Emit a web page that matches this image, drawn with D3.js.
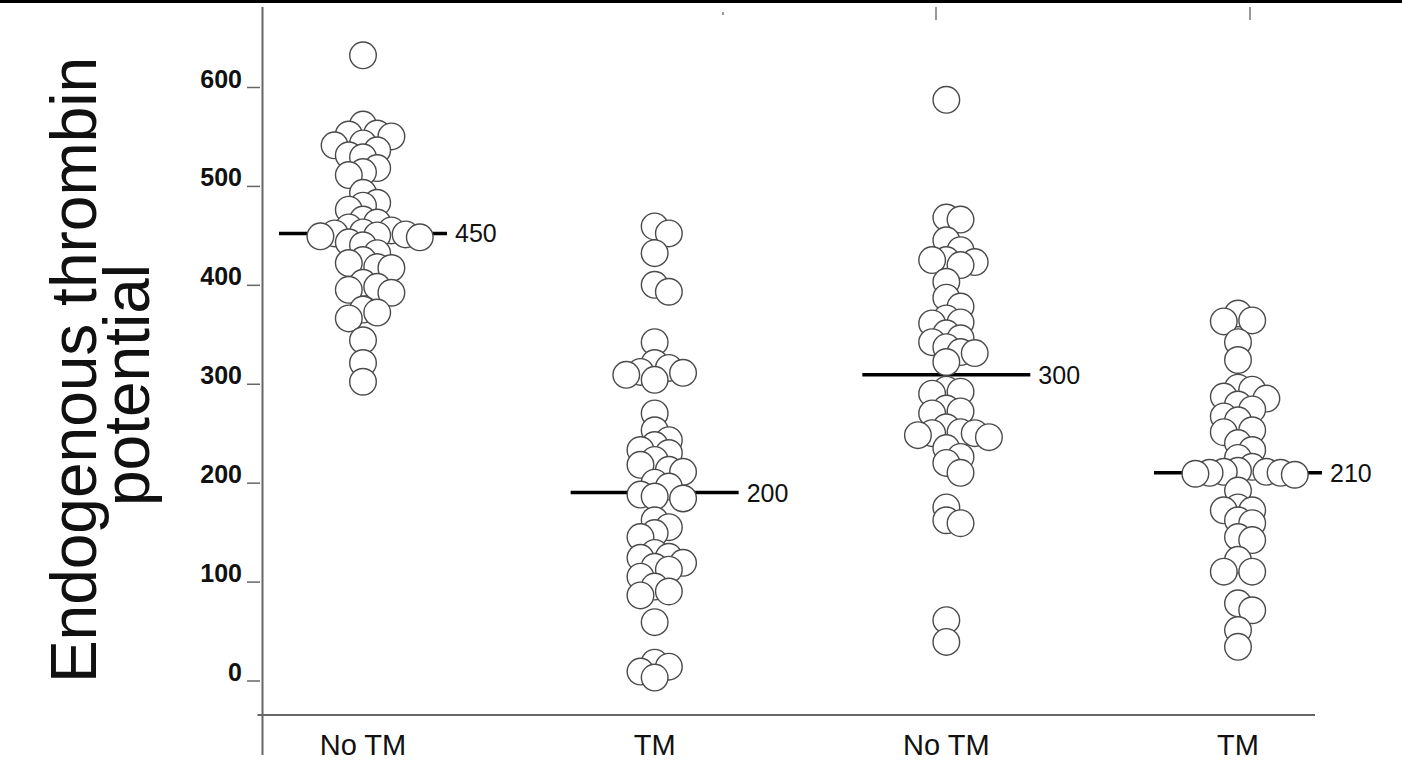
<!DOCTYPE html>
<html>
<head>
<meta charset="utf-8">
<script src="https://cdnjs.cloudflare.com/ajax/libs/d3/7.8.5/d3.min.js"></script>
<style>
	html, body { margin: 0; padding: 0; background: #fff; }
	svg { display: block; }
</style>
</head>
<body>
<div id="chart"></div>
<script>
// values, one list per column
var categories = ["No TM", "TM", "No TM", "TM"];
var noTmAValues = [632, 562, 553, 552, 550, 543, 541, 536, 531, 529, 518, 514, 511, 493, 483, 480, 476, 466, 463, 458, 455, 453, 452, 451, 450, 449, 448, 443, 440, 432, 425, 422, 418, 417, 402, 398, 395, 392, 375, 372, 366, 344, 321, 302];
var tmAValues = [459, 452, 432, 400, 393, 342, 321, 316, 312, 311, 309, 304, 270, 253, 243, 238, 233, 230, 223, 218, 213, 211, 200, 196, 188, 186, 184, 162, 155, 149, 145, 129, 125, 124, 119, 115, 112, 105, 95, 90, 86, 59, 18, 14, 9, 3];
var noTmBValues = [587, 468, 466, 445, 435, 425, 425, 423, 420, 403, 387, 378, 366, 362, 361, 351, 346, 342, 337, 332, 331, 322, 294, 292, 290, 275, 272, 270, 256, 251, 250, 250, 248, 246, 235, 226, 220, 210, 175, 162, 159, 61, 39];
var tmBValues = [371, 364, 363, 342, 324, 296, 294, 287, 285, 279, 274, 267, 263, 253, 251, 240, 233, 225, 216, 212, 211, 211, 210, 210, 209, 208, 192, 175, 172, 172, 162, 159, 145, 142, 122, 110, 110, 78, 71, 51, 34];
var medianValues = [452, 190, 309, 210];
var medianLabels = ["450", "200", "300", "210"];
var yTickValues = [0, 100, 200, 300, 400, 500, 600];
var titleLines = ["Endogenous thrombin", "potential"];

var groups = [noTmAValues, tmAValues, noTmBValues, tmBValues];

var width = 1402,
	height = 767,
	margins = { left: 262.5, right: 87, top: 87, bottom: 86.5 },
	radius = 13.3,
	colStep = 14.2,
	minDist = 12.5,
	medianHalf = 84;

var svg = d3.select("#chart").append("svg")
	.attr("width", width)
	.attr("height", height)
	.style("font-family", "Arial, 'Liberation Sans', sans-serif");

var y = d3.scaleLinear()
	.domain([0, 600])
	.range([height - margins.bottom, margins.top]);

var x = d3.scalePoint()
	.domain(d3.range(categories.length))
	.range([363, 1238]);

// beeswarm: each point goes into the nearest free column around the centre
function swarm(values, cx) {
	var placed = [];
	values.slice().sort(d3.descending).forEach(function(v) {
		var py = y(v);
		for(var k = 0; k < 60; k++) {
			var col = (k % 2 === 1 ? 1 : -1) * Math.ceil(k / 2);
			var px = cx + col * colStep;
			var free = placed.every(function(p) {
				return Math.hypot(p.x - px, p.y - py) >= minDist;
			});
			if(free) {
				placed.push({ value: v, x: px, y: py });
				break;
			}
		}
	});
	return placed;
}

// slide leftovers at the top
svg.append("rect")
	.attr("x", 0).attr("y", 0)
	.attr("width", width).attr("height", 3)
	.attr("fill", "#000");
svg.selectAll(".top-mark")
	.data([[723, 12, 15], [936, 7, 20], [1250, 7, 20]]).enter()
	.append("line")
		.attr("class", "top-mark")
		.attr("x1", function(d) { return d[0]; })
		.attr("x2", function(d) { return d[0]; })
		.attr("y1", function(d) { return d[1]; })
		.attr("y2", function(d) { return d[2]; })
		.attr("stroke", "#777").attr("stroke-width", 1.5);

// axes
var axisColor = "#666";
svg.append("line")
	.attr("x1", margins.left).attr("x2", margins.left)
	.attr("y1", 7).attr("y2", 755)
	.attr("stroke", axisColor).attr("stroke-width", 2);
svg.append("line")
	.attr("x1", margins.left - 5).attr("x2", 1315)
	.attr("y1", 715).attr("y2", 715)
	.attr("stroke", axisColor).attr("stroke-width", 2);

var yAxis = d3.axisLeft(y)
	.tickValues(yTickValues)
	.tickFormat(d3.format("d"))
	.tickSize(0);
var yg = svg.append("g")
	.attr("transform", "translate(" + margins.left + ",0)")
	.call(yAxis);
yg.select(".domain").remove();
yg.selectAll(".tick line")
	.attr("x1", -15.5).attr("x2", -2.5)
	.attr("stroke", axisColor).attr("stroke-width", 1.5);
yg.selectAll(".tick text")
	.attr("x", -20.5)
	.attr("dy", 0)
	.attr("fill", "#111")
	.style("font-family", "Arial, 'Liberation Sans', sans-serif")
	.style("font-weight", "bold")
	.style("font-size", "25px");

// category labels
svg.selectAll(".cat-label")
	.data(categories).enter()
	.append("text")
		.attr("class", "cat-label")
		.attr("x", function(d, i) { return x(i); })
		.attr("y", 755)
		.attr("text-anchor", "middle")
		.attr("fill", "#111")
		.style("font-size", "29px")
		.text(function(d) { return d; });

// medians (under the dots)
svg.selectAll(".median")
	.data(medianValues).enter()
	.append("line")
		.attr("class", "median")
		.attr("x1", function(d, i) { return x(i) - medianHalf; })
		.attr("x2", function(d, i) { return x(i) + medianHalf; })
		.attr("y1", function(d) { return y(d); })
		.attr("y2", function(d) { return y(d); })
		.attr("stroke", "#000").attr("stroke-width", 3.5);
svg.selectAll(".median-label")
	.data(medianValues).enter()
	.append("text")
		.attr("class", "median-label")
		.attr("x", function(d, i) { return x(i) + medianHalf + 8; })
		.attr("y", function(d) { return y(d) + 9; })
		.attr("fill", "#111")
		.style("font-size", "25px")
		.text(function(d, i) { return medianLabels[i]; });

// dots
groups.forEach(function(values, i) {
	svg.append("g")
		.attr("class", "dots")
		.selectAll("circle")
		.data(swarm(values, x(i))).enter()
		.append("circle")
			.attr("cx", function(p) { return p.x; })
			.attr("cy", function(p) { return p.y; })
			.attr("r", radius)
			.attr("fill", "#fff")
			.attr("stroke", "#4a4a4a")
			.attr("stroke-width", 1.4);
});

// y title, rotated, two lines (rotated frame: +x is up the page)
svg.append("text")
	.attr("transform", "translate(0,378) rotate(-90)")
	.attr("text-anchor", "middle")
	.attr("fill", "#111")
	.style("font-size", "64px")
	.selectAll("tspan")
	.data(titleLines).enter()
	.append("tspan")
		.attr("x", function(d, i) { return i === 0 ? 8 : -7; })
		.attr("y", function(d, i) { return i === 0 ? 96 : 149; })
		.text(function(d) { return d; });
</script>
</body>
</html>
